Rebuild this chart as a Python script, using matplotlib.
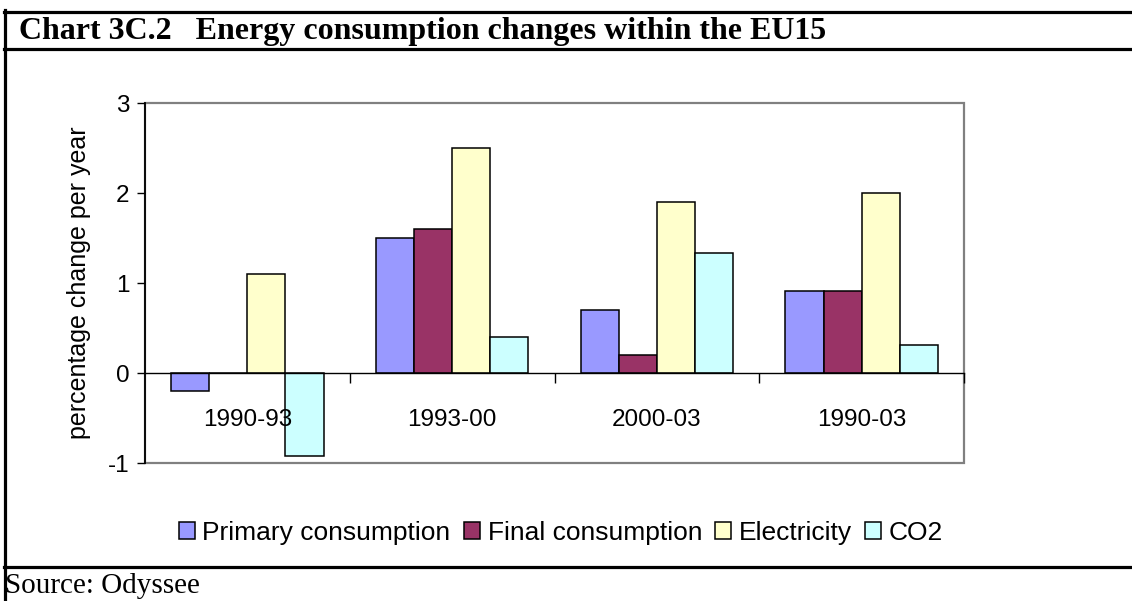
import matplotlib
matplotlib.use('Agg')
import matplotlib.pyplot as plt
from matplotlib.lines import Line2D
from matplotlib.patches import Rectangle
import numpy as np

plt.rcParams['axes.unicode_minus'] = False

# data
periods = ['1990-93', '1993-00', '2000-03', '1990-03']
series = ['Primary consumption', 'Final consumption', 'Electricity', 'CO2']
primary = [-0.2, 1.5, 0.7, 0.91]
final = [0.0, 1.6, 0.2, 0.91]
electricity = [1.1, 2.5, 1.9, 2.0]
co2 = [-0.92, 0.4, 1.33, 0.31]
colors = ['#9999FF', '#993366', '#FFFFCC', '#CCFFFF']

W, H = 1132, 601
fig = plt.figure(figsize=(W / 100, H / 100), dpi=100)

def px(x, y):
    # pixel coords (from top-left) -> figure fraction
    return x / W, 1 - y / H

# outer frame lines
for y in (11.5, 49, 567):
    x0, y0 = px(4, y)
    fig.add_artist(Line2D([x0, 1], [y0, y0], color='black', lw=2.3))
x0, y0 = px(5.3, 10.3)
fig.add_artist(Line2D([x0, x0], [y0, 0], color='black', lw=2.3))

# title and source
fig.text(*px(19, 31), 'Chart 3C.2   Energy consumption changes within the EU15',
         family='Liberation Serif', weight='bold', fontsize=23, va='center')
fig.text(*px(5, 586), 'Source: Odyssee', family='Liberation Serif',
         fontsize=21, va='center')

# plot area
l, t = px(145, 103)
r, b = px(964, 463)
ax = fig.add_axes([l, b, r - l, t - b])
ax.add_patch(Rectangle((0, 0), 1, 1, transform=ax.transAxes, fill=False,
                       edgecolor='#808080', lw=1.6, clip_on=False, zorder=1))

x = np.arange(len(periods))
w = 0.186
data = [primary, final, electricity, co2]
for i, vals in enumerate(data):
    ax.bar(x + (i - 1.5) * w, vals, w, color=colors[i], edgecolor='black',
           lw=1.1, label=series[i], zorder=2)

# category labels sit on top of the bars
ax.set_axisbelow(False)

ax.set_xlim(-0.5, 3.5)
ax.set_ylim(-1, 3)
ax.set_yticks([-1, 0, 1, 2, 3])
ax.tick_params(axis='y', direction='out', length=6, width=1, pad=5,
               labelsize=17.5, colors='black')
for s in ('top', 'right'):
    ax.spines[s].set_visible(False)
ax.spines['bottom'].set_position(('data', 0))
ax.spines['bottom'].set_linewidth(1)
ax.spines['bottom'].set_zorder(3)
ax.spines['left'].set_linewidth(1.3)
ax.spines['left'].set_zorder(3)

ax.set_xticks(x)
ax.set_xticklabels(periods, family='Liberation Sans')
ax.set_xticks(np.arange(0.5, 4, 1), minor=True)
ax.tick_params(axis='x', which='major', length=0, pad=26, labelsize=17.5)
ax.tick_params(axis='x', which='minor', direction='out', length=7, width=1)
for lab in ax.get_yticklabels():
    lab.set_family('Liberation Sans')

ax.set_ylabel('percentage change per year', family='Liberation Sans',
              fontsize=18, labelpad=12)

# legend below the plot
handles = [Rectangle((0, 0), 1, 1, facecolor=c, edgecolor='black', lw=1.1)
           for c in colors]
fig.legend(handles, series, loc='center', bbox_to_anchor=px(561, 533),
           ncol=4, frameon=False, handlelength=0.6, handleheight=0.6,
           handletextpad=0.3, columnspacing=0.5,
           prop={'family': 'Liberation Sans', 'size': 19})

plt.savefig('out.png', dpi=100)
